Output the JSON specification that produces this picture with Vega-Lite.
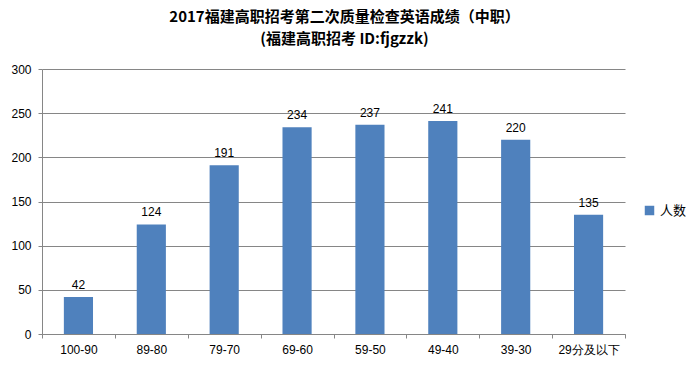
{
  "$schema": "https://vega.github.io/schema/vega-lite/v6.json",
  "autosize": {"type": "none"},
  "width": 583,
  "height": 265,
  "padding": {"left": 42, "top": 69, "right": 73, "bottom": 37},
  "background": "white",
  "title": {
    "text": ["2017福建高职招考第二次质量检查英语成绩（中职）", "(福建高职招考  ID:fjgzzk)"],
    "font": "Noto Sans CJK SC",
    "fontSize": 15,
    "fontWeight": "bold",
    "lineHeight": 22,
    "color": "black",
    "anchor": "middle",
    "frame": "group",
    "dx": 11,
    "offset": 16
  },
  "data": {
    "values": [
      {"range": "100-90", "count": 42, "series": "人数"},
      {"range": "89-80", "count": 124, "series": "人数"},
      {"range": "79-70", "count": 191, "series": "人数"},
      {"range": "69-60", "count": 234, "series": "人数"},
      {"range": "59-50", "count": 237, "series": "人数"},
      {"range": "49-40", "count": 241, "series": "人数"},
      {"range": "39-30", "count": 220, "series": "人数"},
      {"range": "29分及以下", "count": 135, "series": "人数"}
    ]
  },
  "encoding": {
    "x": {
      "field": "range",
      "type": "nominal",
      "sort": null,
      "scale": {"paddingInner": 0, "paddingOuter": 0},
      "axis": {
        "title": null,
        "labelAngle": 0,
        "tickBand": "extent",
        "tickSize": 4,
        "labelPadding": 6,
        "grid": false
      }
    },
    "y": {
      "field": "count",
      "type": "quantitative",
      "scale": {"domain": [0, 300], "nice": false},
      "axis": {
        "title": null,
        "values": [0, 50, 100, 150, 200, 250, 300],
        "tickSize": 4,
        "labelPadding": 7,
        "grid": true
      }
    }
  },
  "layer": [
    {
      "mark": {"type": "bar", "width": {"band": 0.4}},
      "encoding": {
        "color": {
          "field": "series",
          "type": "nominal",
          "scale": {"range": ["#4F81BD"]},
          "legend": {
            "title": null,
            "orient": "none",
            "legendX": 601,
            "legendY": 135,
            "symbolType": "square",
            "symbolSize": 90,
            "symbolStrokeWidth": 0,
            "labelFontSize": 13,
            "labelFont": "Noto Sans CJK SC",
            "labelColor": "black",
            "labelOffset": 4,
            "padding": 0
          }
        }
      }
    },
    {
      "mark": {"type": "text", "dy": -12, "fontSize": 12, "font": "Liberation Sans", "color": "black"},
      "encoding": {"text": {"field": "count", "type": "quantitative"}}
    }
  ],
  "config": {
    "view": {"stroke": null},
    "axis": {
      "domainColor": "#868686",
      "tickColor": "#868686",
      "gridColor": "#868686",
      "domainWidth": 1,
      "tickWidth": 1,
      "gridWidth": 1,
      "labelFont": "Liberation Sans",
      "labelFontSize": 12,
      "labelColor": "black"
    }
  }
}
